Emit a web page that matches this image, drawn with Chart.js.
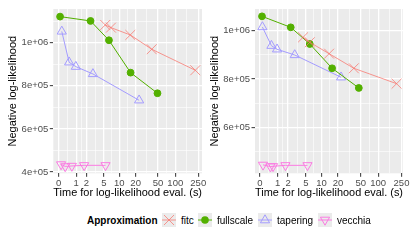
<!DOCTYPE html>
<html><head><meta charset="utf-8">
<script src="https://cdn.jsdelivr.net/npm/chart.js@4"></script>
<style>
html,body{margin:0;padding:0;background:#fff;width:413px;height:241px;overflow:hidden;font-family:'Liberation Sans',Arial,sans-serif}
#c1{position:absolute;left:0;top:0;width:210px;height:200px}
#c2{position:absolute;left:205px;top:0;width:208px;height:200px}
.lg{position:absolute;height:14px;line-height:14px;font-size:10px;color:#000;white-space:nowrap}
</style></head><body>
<canvas id="c1" width="210" height="200"></canvas>
<canvas id="c2" width="208" height="200"></canvas>
<div id="legend"></div>
<script>
// ---- data ----
const seriesNames = ['fitc', 'fullscale', 'tapering', 'vecchia'];
const xTickTimes = [0, 1, 2, 5, 10, 20, 50, 100, 250];
const xTickLabels = ['0', '1', '2', '5', '10', '20', '50', '100', '250'];
const yTicksLeft = [400000, 600000, 800000, 1000000];
const yLabelsLeft = ['4e+05', '6e+05', '8e+05', '1e+06'];
const yTicksRight = [600000, 800000, 1000000];
const yLabelsRight = ['6e+05', '8e+05', '1e+06'];

// left panel
const fitcTimeL = [5.3, 6.9, 16.0, 38.7, 222];
const fitcNllL = [1082000, 1069600, 1035700, 969400, 871900];
const fullTimeL = [0.053, 2.52, 6.3, 16.2, 48.9];
const fullNllL = [1120700, 1100700, 1011000, 860800, 765200];
const taperTimeL = [0.127, 0.507, 0.966, 2.87, 23.1];
const taperNllL = [1052000, 909000, 888600, 854800, 732700];
const vecchiaTimeL = [0.096, 0.29, 0.68, 1.73, 5.37];
const vecchiaNllL = [435000, 426000, 428000, 431000, 431000];

// right panel
const fitcTimeR = [4.37, 5.98, 13.85, 38.0, 206];
const fitcNllR = [972700, 952000, 904800, 844300, 780500];
const fullTimeR = [0.081, 2.32, 5.98, 15.7, 46.4];
const fullNllR = [1059600, 1014000, 944900, 844300, 762700];
const taperTimeR = [0.098, 0.562, 0.944, 2.88, 22.7];
const taperNllR = [1015300, 937900, 923000, 899400, 807000];
const vecchiaTimeR = [0.124, 0.502, 0.663, 1.70, 5.38];
const vecchiaNllR = [444000, 437000, 438000, 442000, 442000];

// ---- styling ----
const FONT = "'Liberation Sans', Arial, sans-serif";
const colors = {
  fitc: 'rgba(248,118,109,0.75)',
  fullscale: '#53B000',
  tapering: '#A49CFF',
  vecchia: '#FB7BE2'
};
const tr = t => Math.log10(t + 1);

function tickList(majors, labels, min, max) {
  const out = [];
  const n = majors.length;
  const first = majors[0] - (majors[1] - majors[0]) / 2;
  if (first >= min) out.push({v: first, major: false, label: ''});
  for (let i = 0; i < n; i++) {
    if (majors[i] >= min && majors[i] <= max) out.push({v: majors[i], major: true, label: labels[i]});
    if (i < n - 1) {
      const m = (majors[i] + majors[i + 1]) / 2;
      if (m >= min && m <= max) out.push({v: m, major: false, label: ''});
    }
  }
  const last = majors[n - 1] + (majors[n - 1] - majors[n - 2]) / 2;
  if (last <= max) out.push({v: last, major: false, label: ''});
  return out;
}

function axis(list, min, max, title, isX, size, titlePad) {
  return {
    type: 'linear', min: min, max: max,
    afterBuildTicks: s => { s.ticks = list.map(o => ({value: o.v})); },
    afterFit: s => { if (isX) s.height = size; else s.width = size; },
    ticks: {
      autoSkip: false, maxRotation: 0, minRotation: 0,
      padding: isX ? 1 : 1.5,
      color: '#4D4D4D',
      font: {family: FONT, size: 9.5},
      callback: (v, i) => (list[i] && list[i].major) ? list[i].label : ''
    },
    grid: {
      color: '#FFFFFF',
      lineWidth: c => (list[c.index] && list[c.index].major) ? 1.3 : 0.6,
      tickColor: c => (list[c.index] && list[c.index].major) ? '#333333' : 'rgba(0,0,0,0)',
      tickLength: 3.5, tickWidth: 1, drawTicks: true
    },
    border: {display: false},
    title: {
      display: true, text: title, color: '#000',
      font: {family: FONT, size: 11},
      padding: titlePad
    }
  };
}

const bgPlugin = {
  id: 'bg',
  beforeDraw(chart) {
    const {ctx, chartArea: a} = chart;
    ctx.save();
    ctx.fillStyle = '#EBEBEB';
    ctx.fillRect(a.left, a.top, a.right - a.left, a.bottom - a.top);
    ctx.restore();
  }
};

function pts(times, vals) { return times.map((t, i) => ({x: tr(t), y: vals[i]})); }

function datasets(fitcT, fitcV, fullT, fullV, tapT, tapV, vecT, vecV) {
  return [
    {label: 'fitc', data: pts(fitcT, fitcV), showLine: true, borderColor: colors.fitc, backgroundColor: colors.fitc,
      borderWidth: 1, pointStyle: 'crossRot', pointRadius: 7, pointBorderWidth: 1, pointBorderColor: colors.fitc},
    {label: 'fullscale', data: pts(fullT, fullV), showLine: true, borderColor: colors.fullscale, backgroundColor: colors.fullscale,
      borderWidth: 1, pointStyle: 'circle', pointRadius: 3.4, pointBorderWidth: 1, pointBorderColor: colors.fullscale, pointBackgroundColor: colors.fullscale},
    {label: 'tapering', data: pts(tapT, tapV), showLine: true, borderColor: colors.tapering, backgroundColor: 'rgba(0,0,0,0)',
      borderWidth: 1, pointStyle: 'triangle', pointRadius: 5.3, pointBorderWidth: 1, pointBorderColor: colors.tapering, pointBackgroundColor: 'rgba(0,0,0,0)'},
    {label: 'vecchia', data: pts(vecT, vecV), showLine: true, borderColor: colors.vecchia, backgroundColor: 'rgba(0,0,0,0)',
      borderWidth: 1, pointStyle: 'triangle', pointRotation: 180, pointRadius: 5.3, pointBorderWidth: 1, pointBorderColor: colors.vecchia, pointBackgroundColor: 'rgba(0,0,0,0)'}
  ];
}

function makeChart(id, ds, xMin, xMax, yMin, yMax, yTicks, yLabels, yWidth, padRight, yTitlePad) {
  const xList = tickList(xTickTimes.map(tr), xTickLabels, xMin, xMax);
  const yList = tickList(yTicks, yLabels, yMin, yMax);
  return new Chart(document.getElementById(id), {
    type: 'scatter',
    data: {datasets: ds},
    options: {
      responsive: false, animation: false, devicePixelRatio: 1,
      layout: {padding: {top: 9, right: padRight, left: 0, bottom: 0}},
      plugins: {legend: {display: false}, tooltip: {enabled: false}},
      scales: {
        x: axis(xList, xMin, xMax, 'Time for log-likelihood eval. (s)', true, 26.7, {top: 0, bottom: 0.7}),
        y: axis(yList, yMin, yMax, 'Negative log-likelihood', false, yWidth, {top: yTitlePad, bottom: 0})
      }
    },
    plugins: [bgPlugin]
  });
}

makeChart('c1', datasets(fitcTimeL, fitcNllL, fullTimeL, fullNllL, taperTimeL, taperNllL, vecchiaTimeL, vecchiaNllL),
  -0.094, 2.464, 394000, 1156000, yTicksLeft, yLabelsLeft, 53.3, 8, 6.7);
makeChart('c2', datasets(fitcTimeR, fitcNllR, fullTimeR, fullNllR, taperTimeR, taperNllR, vecchiaTimeR, vecchiaNllR),
  -0.085, 2.425, 409000, 1090000, yTicksRight, yLabelsRight, 50, 10, 3.4);

// ---- legend ----
function keySvg(name) {
  const c = colors[name];
  let s = '<svg width="14" height="14" xmlns="http://www.w3.org/2000/svg"><rect width="14" height="14" fill="#EBEBEB"/>';
  s += '<line x1="0" y1="7" x2="14" y2="7" stroke="' + c + '" stroke-width="1"/>';
  if (name === 'fitc') s += '<path d="M2 2 L12 12 M12 2 L2 12" stroke="' + c + '" stroke-width="1" fill="none"/>';
  if (name === 'fullscale') s += '<circle cx="7" cy="7" r="3.8" fill="' + c + '"/>';
  if (name === 'tapering') s += '<path d="M7 1.8 L11.6 9.8 L2.4 9.8 Z" stroke="' + c + '" stroke-width="1" fill="none"/>';
  if (name === 'vecchia') s += '<path d="M7 12.2 L11.6 4.2 L2.4 4.2 Z" stroke="' + c + '" stroke-width="1" fill="none"/>';
  return s + '</svg>';
}
const lg = document.getElementById('legend');
const titleEl = document.createElement('div');
titleEl.className = 'lg';
titleEl.style.left = '87px'; titleEl.style.top = '213.5px'; titleEl.style.fontWeight = 'bold';
titleEl.textContent = 'Approximation';
lg.appendChild(titleEl);
const keyLeft = [162.3, 198, 258, 318.3];
const textLeft = [181, 217, 277, 337];
seriesNames.forEach((n, i) => {
  const k = document.createElement('div');
  k.className = 'lg'; k.style.left = keyLeft[i] + 'px'; k.style.top = '213.3px';
  k.innerHTML = keySvg(n);
  lg.appendChild(k);
  const t = document.createElement('div');
  t.className = 'lg'; t.style.left = textLeft[i] + 'px'; t.style.top = '213.5px';
  t.textContent = n;
  lg.appendChild(t);
});
</script>
</body></html>
